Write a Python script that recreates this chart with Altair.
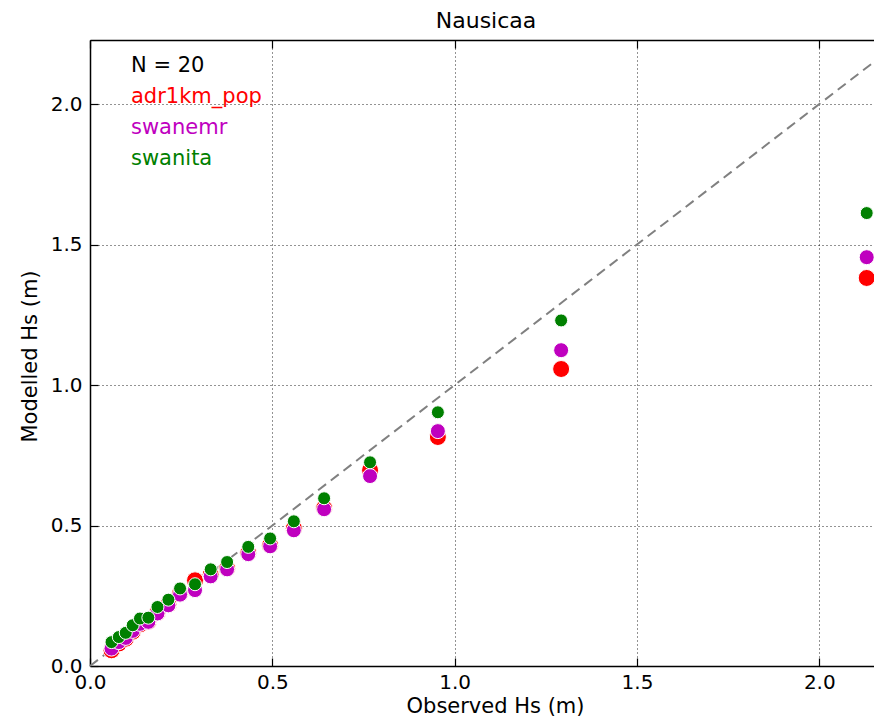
import altair as alt
import pandas as pd

# Observed Hs (m) for the 20 matched stations
observed = [0.059, 0.079, 0.098, 0.117, 0.137, 0.160, 0.185, 0.215, 0.247, 0.288,
            0.331, 0.376, 0.434, 0.494, 0.559, 0.642, 0.768, 0.954, 1.292, 2.130]
# Modelled Hs (m)
adr1km_pop = [0.056, 0.080, 0.097, 0.122, 0.148, 0.158, 0.190, 0.220, 0.258, 0.305,
              0.325, 0.348, 0.402, 0.430, 0.490, 0.562, 0.697, 0.815, 1.057, 1.381]
swanemr = [0.062, 0.085, 0.100, 0.125, 0.150, 0.157, 0.187, 0.216, 0.254, 0.270,
           0.319, 0.344, 0.398, 0.426, 0.483, 0.558, 0.676, 0.836, 1.124, 1.455]
swanita = [0.085, 0.103, 0.118, 0.145, 0.169, 0.172, 0.210, 0.236, 0.276, 0.291,
           0.344, 0.370, 0.424, 0.454, 0.515, 0.597, 0.725, 0.903, 1.230, 1.612]
one_to_one = [0.0, 2.15]
tick_values = [0.0, 0.5, 1.0, 1.5, 2.0]
series_names = ["adr1km_pop", "swanemr", "swanita"]
series_colors = ["#ff0000", "#bf00bf", "#008000"]
series_sizes = [289, 225, 169]
legend_lines = ["N = 20"] + series_names
legend_colors = ["#000000"] + series_colors

FONT = "DejaVu Sans"
xs = alt.Scale(domain=[0, 2.150], nice=False, zero=False)
ys = alt.Scale(domain=[0, 2.228], nice=False, zero=False)

main_x = alt.Axis(orient="bottom", values=tick_values, format=".1f", grid=True,
                  gridDash=[1, 3], gridColor="#000000", gridWidth=1, gridOpacity=0.85,
                  domain=True, domainColor="#000000", domainWidth=1.5,
                  ticks=False, tickSize=0, labelPadding=6,
                  labelFontSize=20, labelFont=FONT, labelColor="#000000", labelFlush=False,
                  title="Observed Hs (m)", titleFontSize=21, titleFont=FONT,
                  titleFontWeight="normal", titleColor="#000000",
                  titleX=405, titleY=40, titleAlign="center", titleBaseline="middle")
main_y = alt.Axis(orient="left", values=tick_values, format=".1f", grid=True,
                  gridDash=[1, 3], gridColor="#000000", gridWidth=1, gridOpacity=0.85,
                  domain=True, domainColor="#000000", domainWidth=1.5,
                  ticks=False, tickSize=0, labelPadding=8,
                  labelFontSize=20, labelFont=FONT, labelColor="#000000", labelFlush=False,
                  title="Modelled Hs (m)", titleFontSize=21, titleFont=FONT,
                  titleFontWeight="normal", titleColor="#000000",
                  titleX=-60, titleY=316, titleAlign="center", titleBaseline="middle",
                  titleAngle=270)


def tick_axis(orient):
    return alt.Axis(orient=orient, values=tick_values, grid=False, domain=False,
                    labels=False, ticks=True, tickSize=8, tickColor="#000000",
                    tickWidth=1.2, offset=-8, title=None)


top_frame = alt.Axis(orient="top", values=tick_values, grid=False, domain=True,
                     domainColor="#000000", domainWidth=1.5, labels=False,
                     ticks=False, title=None)

axes_sets = [
    (main_x, main_y),
    (tick_axis("bottom"), tick_axis("left")),
    (tick_axis("top"), None),
]

line_df = pd.DataFrame({"obs": one_to_one, "mod": one_to_one})
line = alt.Chart(line_df).mark_line(color="#808080", strokeWidth=2, strokeDash=[10, 6]).encode(
    x=alt.X("obs:Q", scale=xs, axis=top_frame),
    y=alt.Y("mod:Q", scale=ys, axis=None),
)

values = [adr1km_pop, swanemr, swanita]
point_layers = []
for name, vals, col, size, (ax_x, ax_y) in zip(series_names, values, series_colors,
                                              series_sizes, axes_sets):
    df = pd.DataFrame({"obs": observed, "mod": vals})
    point_layers.append(
        alt.Chart(df).mark_point(filled=True, shape="circle", size=size, color=col,
                                 stroke="#ffffff", strokeWidth=1, opacity=1).encode(
            x=alt.X("obs:Q", scale=xs, axis=ax_x),
            y=alt.Y("mod:Q", scale=ys, axis=ax_y),
        )
    )

text_layers = []
for i, (txt, col) in enumerate(zip(legend_lines, legend_colors)):
    text_layers.append(
        alt.Chart(pd.DataFrame({"t": [txt]})).mark_text(
            align="left", baseline="alphabetic", font=FONT, fontSize=21, color=col
        ).encode(text="t:N", x=alt.value(41), y=alt.value(32 + 31 * i))
    )

chart = alt.layer(line, *point_layers, *text_layers).resolve_axis(
    x="independent", y="independent"
).properties(
    width=784, height=626,
    title=alt.TitleParams("Nausicaa", fontSize=22, font=FONT, fontWeight="normal",
                          anchor="middle", color="#000000", offset=6, dx=4),
    autosize=alt.AutoSizeParams(type="none"),
    padding={"left": 82, "top": 32, "right": 0, "bottom": 50},
).configure_view(stroke=None).configure(background="#ffffff")

chart.save("out.html", embed_options={"renderer": "svg", "actions": False})
